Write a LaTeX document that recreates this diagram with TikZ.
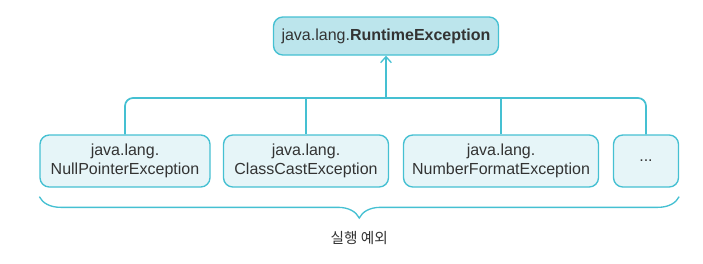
\documentclass[tikz,border=0pt]{standalone}
\usepackage{fontspec}
\setmainfont{Liberation Sans}
\newfontfamily\krfont{Noto Sans CJK KR}
\usepackage{tikz}
\usetikzlibrary{arrows.meta, positioning, calc, decorations.pathreplacing}
\usepackage{xcolor}
\definecolor{cyanline}{HTML}{45C0D2}
\definecolor{cyanfill}{HTML}{BCE5EC}
\definecolor{paleFill}{HTML}{E6F5F8}
\definecolor{inkgray}{HTML}{333333}

\begin{document}
\begin{tikzpicture}[
        x=0.75pt, y=-0.75pt,
        node distance=10pt,
        cls/.style={draw=cyanline, fill=paleFill, rounded corners=7pt, line width=1pt, minimum height=39pt, inner sep=2pt, align=center, text=inkgray, font=\fontsize{12}{14}\selectfont},
        link/.style={draw=cyanline, line width=1.3pt},
        arr/.style={-{Straight Barb[length=4.5pt, width=8pt, line width=1pt]}, draw=cyanline, line width=1.3pt}
    ]
    \useasboundingbox (0,0) rectangle (703,264);

    \node[cls, fill=cyanfill, minimum width=168.75pt, minimum height=28.5pt, font=\fontsize{12}{14}\selectfont] (runtime) at (386,36) {java.lang.\textbf{RuntimeException}};

    \node[cls, minimum width=127.5pt] (npe) at (125,161) {java.lang.\\NullPointerException};
    \node[cls, minimum width=123.75pt] (cce) at (306,161) {java.lang.\\ClassCastException};
    \node[cls, minimum width=146.25pt] (nfe) at (501,161) {java.lang.\\NumberFormatException};
    \node[cls, minimum width=48.75pt] (more) at (646,161) {...};

    % hierarchy bar
    \coordinate (bar) at (0,98);
    \draw[link, rounded corners=6pt] (npe.north) -- (npe.north |- bar) -- (more.north |- bar) -- (more.north);
    \draw[link] (cce.north |- bar) -- (cce.north);
    \draw[link] (nfe.north |- bar) -- (nfe.north);
    \draw[arr] (runtime.south |- bar) -- (runtime.south);

    % brace
    \draw[link, line width=1pt, decorate, decoration={brace, mirror, amplitude=16pt}]
        ([yshift=-6.75pt]npe.south west) -- ([yshift=-6.75pt]more.south east)
        node[midway, below=22pt, text=inkgray, font=\krfont\fontsize{11}{13}\selectfont] (label) {실행 예외};
\end{tikzpicture}
\end{document}
